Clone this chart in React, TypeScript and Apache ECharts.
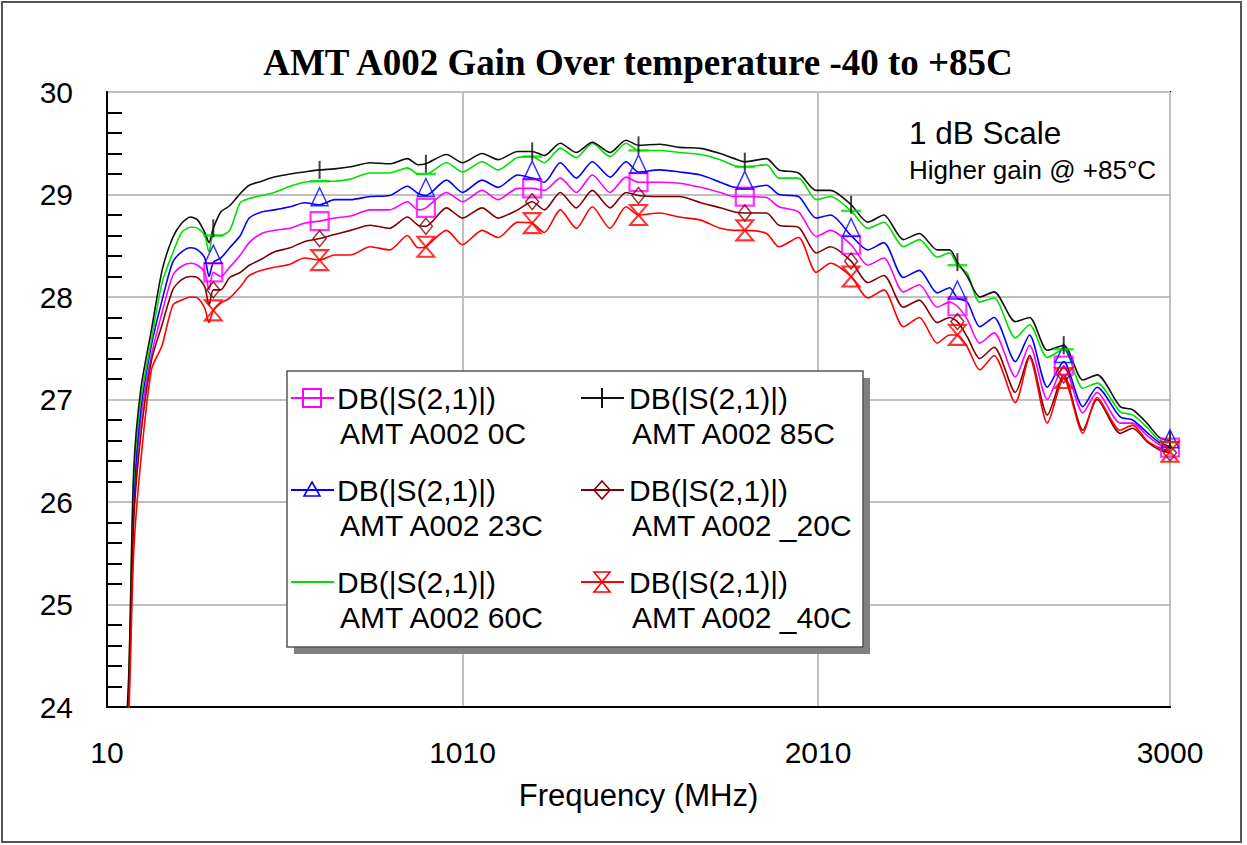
import { useEffect, useRef } from "react";
import * as echarts from "echarts";

// ---------- data ----------
const freqMHz = [
  10, 70, 85, 105, 135, 165, 195, 220, 245, 265,
  285, 297, 309, 330, 355, 385, 410, 445, 480, 525,
  565, 608, 650, 695, 750, 805, 855, 885, 907, 965,
  1010, 1065, 1110, 1165, 1206, 1240, 1285, 1330, 1375, 1425,
  1470, 1505, 1565, 1620, 1680, 1735, 1775, 1804, 1865, 1900,
  1955, 2005, 2045, 2103, 2150, 2195, 2250, 2295, 2345, 2380,
  2402, 2430, 2465, 2505, 2565, 2605, 2655, 2701, 2755, 2795,
  2860, 2895, 2935, 2970, 3000,
];

const gain85C = [
  20, 24.2, 26.3, 27.1, 27.68, 28.26, 28.58, 28.72, 28.78, 28.75,
  28.63, 28.53, 28.67, 28.83, 28.89, 29.01, 29.09, 29.13, 29.17, 29.2,
  29.22, 29.24, 29.25, 29.27, 29.31, 29.3, 29.35, 29.29, 29.3, 29.39,
  29.31, 29.4, 29.34, 29.42, 29.42, 29.38, 29.5, 29.41, 29.51, 29.41,
  29.53, 29.48, 29.49, 29.46, 29.45, 29.4, 29.35, 29.32, 29.35, 29.24,
  29.21, 29.04, 29.04, 28.9, 28.73, 28.8, 28.56, 28.62, 28.46, 28.46,
  28.34, 28.2, 28.0, 28.05, 27.76, 27.8, 27.48, 27.53, 27.19, 27.24,
  26.93, 26.9, 26.77, 26.63, 26.6,
];

const gain60C = [
  20, 24.15, 26.2, 27.0, 27.58, 28.14, 28.43, 28.63, 28.68, 28.67,
  28.6, 28.44, 28.6, 28.6, 28.65, 28.92, 28.96, 28.99, 29.02, 29.08,
  29.12, 29.13, 29.13, 29.15, 29.21, 29.21, 29.26, 29.2, 29.2, 29.31,
  29.22, 29.32, 29.24, 29.36, 29.37, 29.31, 29.45, 29.36, 29.5, 29.37,
  29.5, 29.43, 29.43, 29.41, 29.39, 29.34, 29.28, 29.27, 29.29, 29.16,
  29.16, 28.95, 28.98, 28.84, 28.67, 28.73, 28.49, 28.56, 28.39, 28.43,
  28.31, 28.23, 27.95, 27.99, 27.6, 27.73, 27.41, 27.49, 27.11, 27.16,
  26.88, 26.85, 26.73, 26.6, 26.58,
];

const gain23C = [
  20, 24.05, 26.0, 26.9, 27.53, 27.97, 28.34, 28.44, 28.48, 28.46,
  28.38, 28.2, 28.34, 28.38, 28.48, 28.6, 28.77, 28.83, 28.85, 28.88,
  28.92, 28.9, 28.95, 28.95, 28.98, 28.99, 29.08, 29.01, 28.99, 29.14,
  29.02, 29.14, 29.07, 29.19, 29.16, 29.12, 29.31, 29.16, 29.32, 29.17,
  29.32, 29.22, 29.24, 29.22, 29.19, 29.12, 29.07, 29.06, 29.09, 29.0,
  28.98, 28.77, 28.8, 28.6, 28.46, 28.53, 28.19, 28.26, 28.04, 28.09,
  27.99, 27.95, 27.71, 27.8, 27.37, 27.63, 27.12, 27.37, 26.93, 27.12,
  26.83, 26.8, 26.68, 26.58, 26.54,
];

const gain0C = [
  20, 24.0, 25.9, 26.8, 27.43, 27.85, 28.21, 28.3, 28.33, 28.31,
  28.24, 28.07, 28.24, 28.2, 28.29, 28.41, 28.53, 28.62, 28.65, 28.67,
  28.72, 28.74, 28.77, 28.79, 28.85, 28.85, 28.93, 28.85, 28.87, 29.02,
  28.93, 29.04, 28.95, 29.06, 29.06, 29.04, 29.16, 29.02, 29.19, 29.02,
  29.17, 29.12, 29.12, 29.11, 29.07, 29.02, 28.98, 28.98, 28.97, 28.88,
  28.83, 28.59, 28.65, 28.51, 28.31, 28.38, 28.05, 28.12, 27.9, 27.95,
  27.91, 27.78, 27.55, 27.65, 27.22, 27.53, 27.0, 27.33, 26.87, 27.07,
  26.77, 26.77, 26.65, 26.56, 26.53,
];

const gainMinus20C = [
  20, 23.95, 25.8, 26.65, 27.38, 27.73, 28.07, 28.17, 28.2, 28.19,
  28.1, 27.92, 28.07, 28.07, 28.19, 28.24, 28.31, 28.37, 28.44, 28.48,
  28.54, 28.57, 28.61, 28.65, 28.7, 28.67, 28.78, 28.7, 28.69, 28.87,
  28.77, 28.87, 28.77, 28.85, 28.93, 28.85, 29.02, 28.87, 29.04, 28.87,
  29.02, 28.99, 28.98, 28.98, 28.92, 28.87, 28.83, 28.82, 28.82, 28.7,
  28.68, 28.43, 28.49, 28.35, 28.14, 28.21, 27.9, 27.97, 27.75, 27.8,
  27.76, 27.61, 27.4, 27.51, 27.07, 27.43, 26.85, 27.24, 26.7, 27.0,
  26.67, 26.72, 26.59, 26.51, 26.48,
];

const gainMinus40C = [
  20, 23.8, 25.5, 26.4, 27.29, 27.53, 27.92, 27.97, 28.0, 27.99,
  27.89, 27.75, 27.87, 27.94, 27.99, 28.1, 28.21, 28.26, 28.29, 28.32,
  28.38, 28.36, 28.41, 28.41, 28.49, 28.46, 28.6, 28.48, 28.49, 28.65,
  28.51, 28.65, 28.58, 28.73, 28.72, 28.63, 28.85, 28.67, 28.88, 28.67,
  28.88, 28.8, 28.82, 28.78, 28.75, 28.67, 28.65, 28.65, 28.62, 28.49,
  28.58, 28.24, 28.33, 28.2, 27.99, 28.07, 27.71, 27.8, 27.55, 27.63,
  27.63, 27.51, 27.29, 27.43, 26.97, 27.41, 26.77, 27.21, 26.67, 27.02,
  26.7, 26.75, 26.6, 26.53, 26.49,
];

const markerFreqs = [309, 608, 907, 1206, 1505, 1804, 2103, 2402, 2701, 3000];
const xTickValues = [10, 1010, 2010, 3000];
const yMinDb = 24;
const yMaxDb = 30;
const yStepDb = 1;

const measurementLabel = "DB(|S(2,1)|)";
const seriesNames = [
  "AMT A002 0C",
  "AMT A002 23C",
  "AMT A002 60C",
  "AMT A002 85C",
  "AMT A002 _20C",
  "AMT A002 _40C",
];
const titleText = "AMT A002 Gain Over temperature -40 to +85C";
const noteLine1 = "1 dB Scale";
const noteLine2 = "Higher gain @ +85°C";
const xAxisName = "Frequency (MHz)";

// ---------- styling ----------
const SANS = '"Liberation Sans", Arial, sans-serif';
const SERIF = '"Liberation Serif", "Times New Roman", serif';

type MarkerKind = "square" | "triangle" | "dash" | "plus" | "diamond" | "hourglass";

const specs: { name: string; values: number[]; color: string; marker: MarkerKind; col: number; row: number }[] = [
  { name: seriesNames[0], values: gain0C, color: "#ff00ff", marker: "square", col: 0, row: 0 },
  { name: seriesNames[1], values: gain23C, color: "#0000ff", marker: "triangle", col: 0, row: 1 },
  { name: seriesNames[2], values: gain60C, color: "#00e000", marker: "dash", col: 0, row: 2 },
  { name: seriesNames[3], values: gain85C, color: "#111111", marker: "plus", col: 1, row: 0 },
  { name: seriesNames[4], values: gainMinus20C, color: "#800000", marker: "diamond", col: 1, row: 1 },
  { name: seriesNames[5], values: gainMinus40C, color: "#ff0000", marker: "hourglass", col: 1, row: 2 },
];

const HOURGLASS = "path://M0,0L20,0L0,24L20,24Z";

function markerStyle(kind: MarkerKind, color: string): any {
  const hollow = (w: number) => ({ color: "rgba(0,0,0,0)", borderColor: color, borderWidth: w });
  switch (kind) {
    case "square":
      return { symbol: "rect", symbolSize: 18, itemStyle: hollow(2.2) };
    case "triangle":
      return { symbol: "triangle", symbolSize: [17, 18], symbolOffset: [0, -8], itemStyle: hollow(1.5) };
    case "dash":
      return { symbol: "rect", symbolSize: [20, 2.5], itemStyle: { color } };
    case "plus":
      return { symbol: "rect", symbolSize: [2, 18], itemStyle: { color } };
    case "diamond":
      return { symbol: "diamond", symbolSize: [13, 16], itemStyle: hollow(1.5) };
    case "hourglass":
      return { symbol: HOURGLASS, symbolSize: [17, 20], itemStyle: hollow(2) };
  }
}

function legendIcon(kind: MarkerKind, color: string, cx: number, ly: number): any[] {
  const st = { fill: "none", stroke: color, lineWidth: 1.6 };
  switch (kind) {
    case "square":
      return [{ type: "rect", shape: { x: cx - 9, y: ly - 9, width: 18, height: 18 }, style: { ...st, lineWidth: 2 } }];
    case "triangle":
      return [{ type: "polygon", shape: { points: [[cx, ly - 8], [cx + 8, ly + 6], [cx - 8, ly + 6]] }, style: st }];
    case "plus":
      return [{ type: "line", shape: { x1: cx, y1: ly - 10, x2: cx, y2: ly + 10 }, style: { stroke: color, lineWidth: 2 } }];
    case "diamond":
      return [{ type: "polygon", shape: { points: [[cx, ly - 9], [cx + 8, ly], [cx, ly + 9], [cx - 8, ly]] }, style: st }];
    case "hourglass":
      return [{ type: "polygon", shape: { points: [[cx - 8, ly - 10], [cx + 8, ly - 10], [cx - 8, ly + 10], [cx + 8, ly + 10]] }, style: st }];
    default:
      return [];
  }
}

export default function App() {
  const ref = useRef<HTMLDivElement>(null);

  useEffect(() => {
    if (!ref.current) return;
    const chart = echarts.init(ref.current, undefined, { renderer: "svg" });

    const lineSeries = specs.map((s) => ({
      name: s.name,
      type: "line",
      data: freqMHz.map((f, i) => [f, s.values[i]]),
      showSymbol: false,
      symbol: "none",
      smooth: 0.25,
      lineStyle: { color: s.color, width: 1.6 },
      itemStyle: { color: s.color },
      silent: true,
      z: 3,
    }));

    const markerSeries = specs.map((s) => ({
      name: s.name + " markers",
      type: "scatter",
      data: freqMHz
        .map((f, i) => [f, s.values[i]])
        .filter((p) => markerFreqs.includes(p[0])),
      clip: false,
      silent: true,
      z: 4,
      ...markerStyle(s.marker, s.color),
    }));

    // legend drawn as graphics
    const legend: any[] = [];
    const boxX = 287, boxY = 371, boxW = 576, boxH = 276;
    legend.push({ type: "rect", z: 100, shape: { x: boxX + 7, y: boxY + 7, width: boxW, height: boxH }, style: { fill: "#808080" } });
    legend.push({ type: "rect", z: 101, shape: { x: boxX, y: boxY, width: boxW, height: boxH }, style: { fill: "#fff", stroke: "#555", lineWidth: 1.5 } });
    specs.forEach((s) => {
      const x0 = s.col === 0 ? 291 : 581;
      const tx = s.col === 0 ? 337 : 629;
      const ly = 398 + s.row * 92;
      legend.push({ type: "line", z: 102, shape: { x1: x0, y1: ly, x2: x0 + 43, y2: ly }, style: { stroke: s.color, lineWidth: 2 } });
      legendIcon(s.marker, s.color, x0 + 21, ly).forEach((el) => legend.push({ ...el, z: 103 }));
      legend.push({ type: "text", z: 103, style: { text: measurementLabel, x: tx, y: ly, font: `30px ${SANS}`, fill: "#000", verticalAlign: "middle" } });
      legend.push({ type: "text", z: 103, style: { text: s.name, x: tx + 3, y: ly + 35, font: `30px ${SANS}`, fill: "#000", verticalAlign: "middle" } });
    });

    const option: any = {
      animation: false,
      backgroundColor: "#fff",
      grid: { left: 107, top: 92, width: 1063, height: 615, show: true, borderColor: "#000", borderWidth: 2, containLabel: false },
      xAxis: {
        type: "value",
        min: 10,
        max: 3000,
        axisLine: { show: true, onZero: false, lineStyle: { color: "#000", width: 2 } },
        axisTick: { show: false, customValues: xTickValues },
        axisLabel: {
          customValues: xTickValues,
          formatter: (v: number) => String(v),
          fontSize: 30,
          color: "#000",
          fontFamily: SANS,
          margin: 30,
        },
        splitLine: { show: true, lineStyle: { color: "#c0c0c0", width: 2 } },
        name: xAxisName,
        nameLocation: "middle",
        nameGap: 73,
        nameTextStyle: { fontSize: 31, color: "#000", fontFamily: SANS },
      },
      yAxis: {
        type: "value",
        min: yMinDb,
        max: yMaxDb,
        interval: yStepDb,
        axisLine: { show: true, onZero: false, lineStyle: { color: "#000", width: 2 } },
        axisTick: { show: false, inside: true },
        minorTick: { show: true, splitNumber: 5, length: 15, lineStyle: { color: "#000", width: 2 } },
        splitLine: { show: true, lineStyle: { color: "#c0c0c0", width: 2 } },
        axisLabel: { fontSize: 30, color: "#000", fontFamily: SANS, margin: 34 },
      },
      graphic: {
        elements: [
          { type: "rect", z: 90, shape: { x: 2, y: 2, width: 1239, height: 840 }, style: { fill: "none", stroke: "#555", lineWidth: 2 } },
          { type: "text", z: 100, style: { text: titleText, x: 638, y: 62, font: `bold 37px ${SERIF}`, fill: "#000", align: "center", verticalAlign: "middle" } },
          { type: "text", z: 100, style: { text: noteLine1, x: 909, y: 133, font: `31.5px ${SANS}`, fill: "#000", verticalAlign: "middle" } },
          { type: "text", z: 100, style: { text: noteLine2, x: 909, y: 170, font: `26px ${SANS}`, fill: "#000", verticalAlign: "middle" } },
          ...legend,
        ],
      },
      series: [...lineSeries, ...markerSeries],
    };

    chart.setOption(option);
    return () => chart.dispose();
  }, []);

  return (
    <div
      ref={ref}
      style={{ position: "fixed", left: 0, top: 0, width: 1247, height: 845, background: "#fff" }}
    />
  );
}
